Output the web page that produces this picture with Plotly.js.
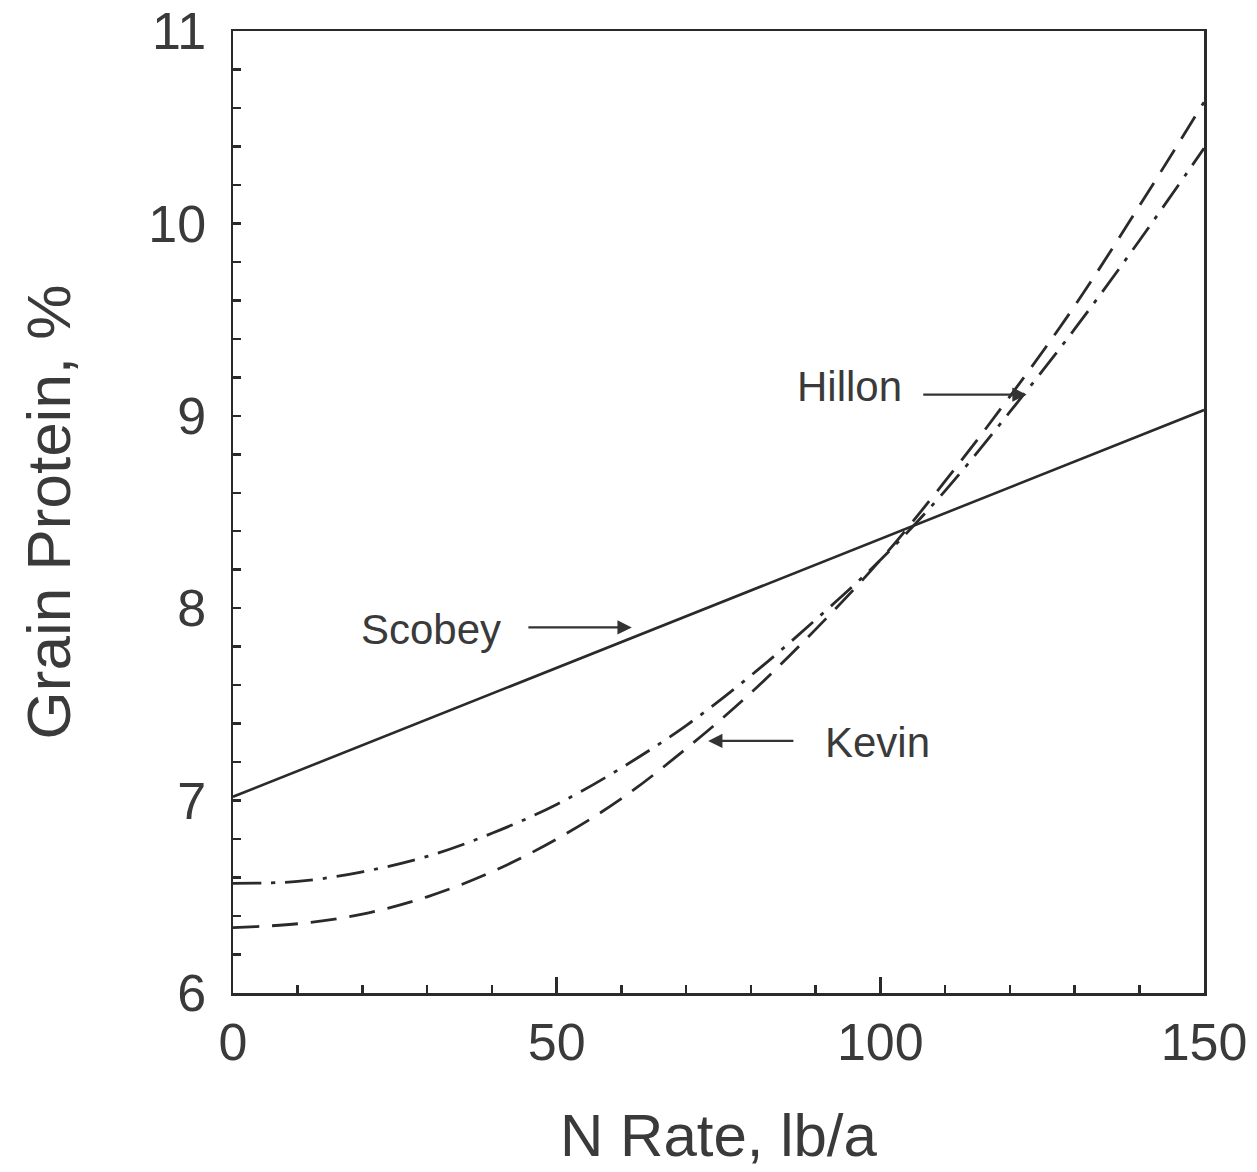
<!DOCTYPE html>
<html>
<head>
<meta charset="utf-8">
<script src="https://cdn.plot.ly/plotly-3.0.1.min.js"></script>
<style>html,body{margin:0;padding:0;background:#fff;}#chart{width:1257px;height:1172px;}</style>
</head>
<body>
<div id="chart"></div>
<script>
// N rate, lb/a
const nRate = [0,10,20,30,40,50,60,70,80,90,100,110,120,130,140,150];
// Scobey (straight line) endpoints
const scobeyX = [0,150];
const scobeyY = [7.02,9.03];
// Hillon (dash-dot)
const hillonY = [6.57,6.58,6.63,6.71,6.83,6.98,7.17,7.39,7.65,7.94,8.25,8.61,9.02,9.45,9.91,10.39];
// Kevin (dashed)
const kevinY  = [6.34,6.36,6.41,6.50,6.63,6.80,7.01,7.27,7.56,7.89,8.25,8.66,9.10,9.57,10.09,10.63];

const xTicks = [0,50,100,150];
const yTicks = [6,7,8,9,10,11];

const lineCol = '#2a2a2a';
const txtCol = '#3a3a3a';
const font = 'Liberation Sans, Arial, sans-serif';

const traces = [
  {x: scobeyX, y: scobeyY, mode:'lines', name:'Scobey', line:{color:lineCol, width:2.6}},
  {x: nRate, y: hillonY, mode:'lines', name:'Hillon', line:{color:lineCol, width:2.8, dash:'28px,10px,4px,10px', shape:'spline'}},
  {x: nRate, y: kevinY, mode:'lines', name:'Kevin', line:{color:lineCol, width:2.8, dash:'26px,13px', shape:'spline'}}
];

function arrow(x0,y0,x1,y1){
  return {x:x1, y:y1, ax:x0, ay:y0, axref:'x', ayref:'y', xref:'x', yref:'y',
    text:'', showarrow:true, arrowhead:2, arrowsize:1.3, arrowwidth:2.2, arrowcolor:'#333'};
}
function label(t,x,y){
  return {x:x, y:y, xref:'x', yref:'y', text:t, showarrow:false,
    font:{family:font, size:42, color:txtCol}};
}

const layout = {
  width:1257, height:1172,
  margin:{l:233, r:53, t:31, b:179},
  paper_bgcolor:'#fff', plot_bgcolor:'#fff',
  showlegend:false,
  xaxis:{
    range:[0,150], tickvals:xTicks, ticktext:xTicks.map(String),
    ticks:'inside', ticklen:16, tickwidth:2.5, tickcolor:lineCol,
    minor:{dtick:10, tick0:0, ticks:'inside', ticklen:8, tickwidth:2.5, tickcolor:lineCol, showgrid:false},
    showline:true, linecolor:lineCol, linewidth:2.5, mirror:true,
    showgrid:false, zeroline:false,
    tickfont:{family:font, size:52, color:txtCol},
    ticklabelstandoff:2,
    title:{text:'N Rate, lb/a', font:{family:font, size:60, color:txtCol}, standoff:44}
  },
  yaxis:{
    range:[6,11], tickvals:yTicks, ticktext:yTicks.map(String),
    ticks:'inside', ticklen:8, tickwidth:2.5, tickcolor:lineCol,
    minor:{dtick:0.2, tick0:6, ticks:'inside', ticklen:8, tickwidth:2.5, tickcolor:lineCol, showgrid:false},
    showline:true, linecolor:lineCol, linewidth:2.5, mirror:true,
    showgrid:false, zeroline:false,
    tickfont:{family:font, size:52, color:txtCol},
    ticklabelstandoff:14,
    title:{text:'Grain Protein, %', font:{family:font, size:62, color:txtCol}, standoff:58}
  },
  annotations:[
    label('Scobey',30.6,7.89),
    arrow(45.4,7.90,61.6,7.90),
    label('Kevin',99.5,7.30),
    arrow(86.8,7.31,73.4,7.31),
    label('Hillon',95.2,9.15),
    arrow(106.4,9.11,122.6,9.11)
  ]
};

Plotly.newPlot('chart', traces, layout, {displayModeBar:false, staticPlot:true});
</script>
</body>
</html>
